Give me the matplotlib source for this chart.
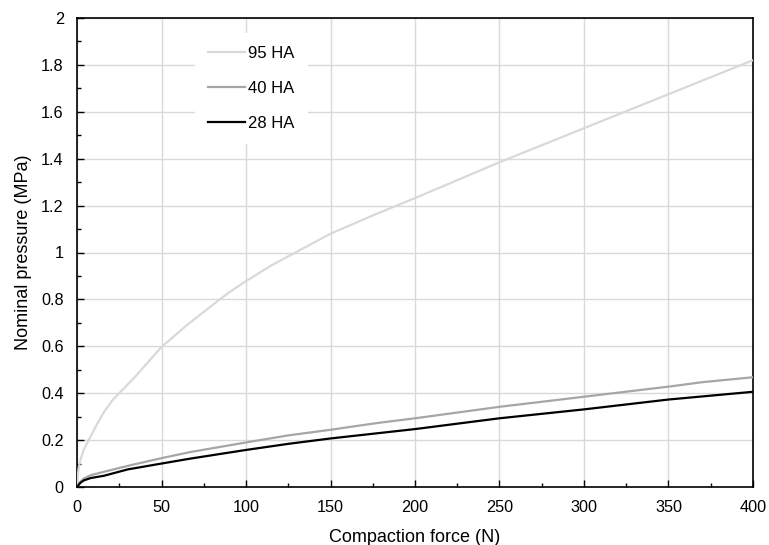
import matplotlib
matplotlib.use("Agg")
import matplotlib.pyplot as plt
from matplotlib.ticker import MultipleLocator

plt.rcParams['font.family'] = ['Liberation Sans', 'DejaVu Sans']

force_95 = [0, 0.5, 1, 2, 4, 8, 12, 16, 21, 25, 35, 50, 65, 80, 90, 100, 115, 130, 150, 175, 200, 250, 300, 350, 400]
press_95 = [0, 0.05, 0.08, 0.115, 0.16, 0.215, 0.27, 0.32, 0.37, 0.40, 0.475, 0.597, 0.69, 0.775, 0.83, 0.878, 0.945, 1.003, 1.08, 1.158, 1.232, 1.385, 1.53, 1.675, 1.82]

force_40 = [0, 2, 4, 8, 16, 30, 50, 67, 100, 125, 150, 170, 180, 200, 250, 285, 300, 350, 370, 400]
press_40 = [0, 0.022, 0.036, 0.05, 0.065, 0.09, 0.123, 0.149, 0.19, 0.22, 0.244, 0.265, 0.275, 0.293, 0.342, 0.372, 0.385, 0.428, 0.447, 0.468]

force_28 = [0, 2, 4, 8, 16, 30, 50, 67, 100, 125, 150, 200, 250, 300, 350, 400]
press_28 = [0, 0.018, 0.028, 0.038, 0.048, 0.075, 0.10, 0.121, 0.158, 0.184, 0.207, 0.247, 0.293, 0.331, 0.373, 0.406]

labels = ["95 HA", "40 HA", "28 HA"]
colors = ["#d9d9d9", "#a6a6a6", "#000000"]

fig = plt.figure(figsize=(7.69, 5.45), dpi=100)
ax = fig.add_axes([77/769, (545-487)/545, (753-77)/769, (487-18)/545])

for f, p, lab, c in zip([force_95, force_40, force_28], [press_95, press_40, press_28], labels, colors):
    ax.plot(f, p, color=c, lw=1.6, label=lab, zorder=3)

ax.set_xlim(0, 400)
ax.set_ylim(0, 2)
ax.xaxis.set_major_locator(MultipleLocator(50))
ax.xaxis.set_minor_locator(MultipleLocator(25))
ax.yaxis.set_minor_locator(MultipleLocator(0.1))
ax.set_yticks([0, 0.2, 0.4, 0.6, 0.8, 1.0, 1.2, 1.4, 1.6, 1.8, 2.0])
ax.set_yticklabels(["0", "0.2", "0.4", "0.6", "0.8", "1", "1.2", "1.4", "1.6", "1.8", "2"])
ax.grid(True, which='major', color="#d9d9d9", lw=1.0, zorder=0)
ax.set_axisbelow(True)
ax.tick_params(which='major', direction='in', length=5, width=1, labelsize=11.7)
ax.tick_params(axis='x', which='major', pad=9)
ax.tick_params(axis='y', which='major', pad=9.5)
ax.tick_params(which='minor', direction='in', length=3, width=1)
for s in ax.spines.values():
    s.set_linewidth(1.2)
    s.set_color("black")

ax.set_xlabel("Compaction force (N)", fontsize=13)
ax.set_ylabel("Nominal pressure (MPa)", fontsize=13)
ax.xaxis.set_label_coords(0.5, -0.089)
ax.yaxis.set_label_coords(-0.066, 0.5)

leg = ax.legend(loc='upper left', bbox_to_anchor=(0.1746, 0.969), frameon=True,
                facecolor='white', edgecolor='none', framealpha=1, fancybox=False,
                fontsize=12, handlelength=2.2, handletextpad=0.2, labelspacing=1.2,
                borderpad=0.8, borderaxespad=0)

fig.savefig("out.png", dpi=100)
